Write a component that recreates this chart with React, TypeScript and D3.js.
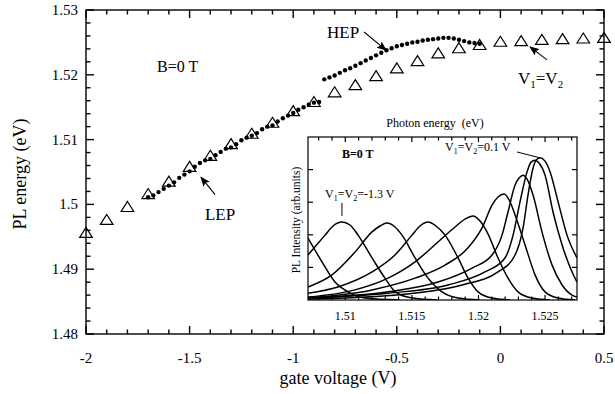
import React, { useEffect, useRef } from "react";
import * as d3 from "d3";

const W = 615;
const H = 394;
const FONT = "'Liberation Serif', 'Times New Roman', serif";

// V1=V2 (triangles)
const triV = [-2.0, -1.9, -1.8, -1.7, -1.6, -1.5, -1.4, -1.3, -1.2, -1.1, -1.0, -0.9, -0.8, -0.7, -0.6, -0.5, -0.4, -0.3, -0.2, -0.1, 0, 0.1, 0.2, 0.3, 0.4, 0.5];
const triE = [1.4956, 1.4976, 1.4996, 1.5016, 1.5035, 1.5058, 1.5075, 1.5093, 1.5109, 1.5126, 1.5144, 1.5158, 1.5173, 1.5184, 1.5198, 1.521, 1.5221, 1.5233, 1.5241, 1.5246, 1.5251, 1.5252, 1.5254, 1.5255, 1.5256, 1.5257];

// LEP (dots)
const lepV = [-1.7, -1.675, -1.65, -1.625, -1.6, -1.575, -1.55, -1.525, -1.5, -1.475, -1.45, -1.425, -1.4, -1.375, -1.35, -1.325, -1.3, -1.275, -1.25, -1.225, -1.2, -1.175, -1.15, -1.125, -1.1, -1.075, -1.05, -1.025, -1.0, -0.975, -0.95, -0.925, -0.9, -0.875];
const lepE = [1.5011, 1.5014, 1.5019, 1.5024, 1.5029, 1.5034, 1.5041, 1.5046, 1.5051, 1.5058, 1.5064, 1.5068, 1.507, 1.5076, 1.5081, 1.5086, 1.5088, 1.5093, 1.5099, 1.5103, 1.5106, 1.511, 1.5116, 1.512, 1.5122, 1.5128, 1.5133, 1.5137, 1.5141, 1.5146, 1.515, 1.5154, 1.5157, 1.5158];

// HEP (dots)
const hepV = [-0.85, -0.825, -0.8, -0.775, -0.75, -0.725, -0.7, -0.675, -0.65, -0.625, -0.6, -0.575, -0.55, -0.525, -0.5, -0.475, -0.45, -0.425, -0.4, -0.375, -0.35, -0.325, -0.3, -0.275, -0.25, -0.225, -0.2, -0.175, -0.15, -0.125, -0.1];
const hepE = [1.5193, 1.5196, 1.5199, 1.5203, 1.5207, 1.521, 1.5214, 1.5218, 1.5222, 1.5226, 1.523, 1.5234, 1.5238, 1.5241, 1.5244, 1.5246, 1.5248, 1.525, 1.5251, 1.5253, 1.5254, 1.5255, 1.5256, 1.5257, 1.5257, 1.5256, 1.5254, 1.5252, 1.525, 1.5249, 1.5248];

const xTicks = [-2, -1.5, -1, -0.5, 0, 0.5];
const xTickLabels = ["-2", "-1.5", "-1", "-0.5", "0", "0.5"];
const yTicks = [1.48, 1.49, 1.5, 1.51, 1.52, 1.53];
const yTickLabels = ["1.48", "1.49", "1.5", "1.51", "1.52", "1.53"];

// inset: PL spectra [photon energy, intensity]
const spec0 = [[1.5072, 1.9], [1.50825, 1.17], [1.50923, 0.55], [1.5102, 0.25], [1.51148, 0.06], [1.5141, 0]];
const spec1 = [[1.5072, 1.38], [1.50848, 1.99], [1.50908, 2.27], [1.50975, 2.39], [1.51035, 2.3], [1.51096, 1.99], [1.51201, 1.29], [1.51298, 0.67], [1.51376, 0.25], [1.51504, 0.06], [1.51691, 0]];
const spec2 = [[1.5072, 0.4], [1.509, 0.77], [1.51073, 1.47], [1.51201, 2.09], [1.51261, 2.27], [1.51313, 2.36], [1.51373, 2.24], [1.51426, 1.99], [1.51524, 1.29], [1.51621, 0.67], [1.51726, 0.25], [1.51847, 0.06], [1.52012, 0]];
const spec3 = [[1.5072, 0.21], [1.50945, 0.4], [1.51201, 0.86], [1.51373, 1.38], [1.51501, 1.99], [1.51561, 2.27], [1.51621, 2.39], [1.51681, 2.27], [1.51749, 1.99], [1.51847, 1.29], [1.51922, 0.67], [1.51997, 0.25], [1.52102, 0.06], [1.52237, 0]];
const spec4 = [[1.5072, 0.09], [1.51073, 0.31], [1.51321, 0.67], [1.51524, 1.17], [1.51696, 1.78], [1.51824, 2.24], [1.51899, 2.48], [1.51959, 2.58], [1.52012, 2.42], [1.52064, 2.09], [1.52147, 1.29], [1.52222, 0.67], [1.52297, 0.25], [1.52402, 0.06], [1.52537, 0]];
const spec5 = [[1.5072, 0.06], [1.51201, 0.31], [1.51524, 0.67], [1.51749, 1.07], [1.51922, 1.6], [1.52027, 2.21], [1.52102, 2.91], [1.52147, 3.16], [1.52192, 3.25], [1.5223, 3.07], [1.52275, 2.61], [1.5235, 1.69], [1.52425, 0.77], [1.525, 0.25], [1.52598, 0.06], [1.52725, 0]];
const spec6 = [[1.5072, 0.06], [1.51321, 0.25], [1.51696, 0.55], [1.51952, 0.98], [1.52102, 1.38], [1.52177, 1.99], [1.52222, 2.7], [1.52275, 3.53], [1.52305, 3.74], [1.52335, 3.83], [1.52365, 3.71], [1.5241, 3.22], [1.52477, 2.09], [1.52553, 1.07], [1.52628, 0.46], [1.52703, 0.15], [1.5274, 0.09]];
const spec7 = [[1.5072, 0.06], [1.51321, 0.21], [1.51771, 0.46], [1.52049, 0.86], [1.52199, 1.29], [1.5226, 1.99], [1.52312, 3.01], [1.52365, 3.93], [1.52395, 4.23], [1.52425, 4.29], [1.52455, 4.2], [1.525, 3.83], [1.5256, 2.7], [1.52628, 1.69], [1.52703, 0.86], [1.5274, 0.55]];
const spec8 = [[1.5072, 0.03], [1.51448, 0.18], [1.51877, 0.46], [1.52147, 0.86], [1.52275, 1.38], [1.52335, 2.21], [1.52372, 3.22], [1.5241, 4.05], [1.52433, 4.29], [1.52463, 4.36], [1.525, 4.26], [1.52538, 3.93], [1.52598, 3.01], [1.52665, 1.99], [1.5274, 1.29]];
const spectra = [spec0, spec1, spec2, spec3, spec4, spec5, spec6, spec7, spec8];

const insetTicks = [1.51, 1.515, 1.52, 1.525];
const insetTickLabels = ["1.51", "1.515", "1.52", "1.525"];
const insetYTicks = [1, 2, 3, 4];

export default function App() {
  const ref = useRef(null);

  useEffect(() => {
    const svg = d3.select(ref.current);
    svg.selectAll("*").remove();

    const x = d3.scaleLinear([-2, 0.5], [86, 604]);
    const y = d3.scaleLinear([1.48, 1.53], [334, 10]);

    const defs = svg.append("defs");
    defs
      .append("marker")
      .attr("id", "arr")
      .attr("markerUnits", "userSpaceOnUse")
      .attr("markerWidth", 10)
      .attr("markerHeight", 8)
      .attr("refX", 9)
      .attr("refY", 4)
      .attr("orient", "auto")
      .append("path")
      .attr("d", "M0,0 L10,4 L0,8 L2,4 z")
      .attr("fill", "#000");

    // frame with inward ticks on all four sides
    const boxTicks = (g, sx, sy, xMaj, xMin, yMaj, yMin, maj, mn, sw) => {
      const [x0, x1] = sx.range();
      const [y0, y1] = sy.range();
      g.append("rect")
        .attr("x", x0)
        .attr("y", y1)
        .attr("width", x1 - x0)
        .attr("height", y0 - y1)
        .attr("fill", "none")
        .attr("stroke", "#000")
        .attr("stroke-width", sw);
      const seg = [];
      xMin.forEach((v) => {
        const len = xMaj.some((m) => Math.abs(m - v) < 1e-9) ? maj : mn;
        seg.push([sx(v), y0, sx(v), y0 - len]);
        seg.push([sx(v), y1, sx(v), y1 + len]);
      });
      yMin.forEach((v) => {
        const len = yMaj.some((m) => Math.abs(m - v) < 1e-9) ? maj : mn;
        seg.push([x0, sy(v), x0 + len, sy(v)]);
        seg.push([x1, sy(v), x1 - len, sy(v)]);
      });
      g.selectAll("line.tk")
        .data(seg)
        .join("line")
        .attr("class", "tk")
        .attr("x1", (d) => d[0])
        .attr("y1", (d) => d[1])
        .attr("x2", (d) => d[2])
        .attr("y2", (d) => d[3])
        .attr("stroke", "#000")
        .attr("stroke-width", sw);
    };

    // main frame
    const gm = svg.append("g");
    boxTicks(gm, x, y, xTicks, x.ticks(25), yTicks, y.ticks(25), 8, 4.5, 1.4);

    gm.selectAll("text.xt")
      .data(xTicks)
      .join("text")
      .attr("class", "xt")
      .attr("x", (d) => x(d))
      .attr("y", 363)
      .attr("text-anchor", "middle")
      .attr("font-family", FONT)
      .attr("font-size", 15)
      .text((d, i) => xTickLabels[i]);

    gm.selectAll("text.yt")
      .data(yTicks)
      .join("text")
      .attr("class", "yt")
      .attr("x", 78)
      .attr("y", (d) => y(d) + 5)
      .attr("text-anchor", "end")
      .attr("font-family", FONT)
      .attr("font-size", 15)
      .text((d, i) => yTickLabels[i]);

    svg.append("text")
      .attr("x", 338)
      .attr("y", 384)
      .attr("text-anchor", "middle")
      .attr("font-family", FONT)
      .attr("font-size", 18)
      .text("gate voltage (V)");

    svg.append("text")
      .attr("transform", `translate(26,174) rotate(-90)`)
      .attr("text-anchor", "middle")
      .attr("font-family", FONT)
      .attr("font-size", 18)
      .text("PL energy (eV)");

    // dots
    const dots = lepV.map((v, i) => [v, lepE[i]]).concat(hepV.map((v, i) => [v, hepE[i]]));
    svg.append("g")
      .selectAll("circle")
      .data(dots)
      .join("circle")
      .attr("cx", (d) => x(d[0]))
      .attr("cy", (d) => y(d[1]))
      .attr("r", 2.2)
      .attr("fill", "#000");

    // triangles
    svg.append("g")
      .selectAll("path")
      .data(triV.map((v, i) => [v, triE[i]]))
      .join("path")
      .attr("transform", (d) => `translate(${x(d[0])},${y(d[1])})`)
      .attr("d", "M0,-5.5 L6.3,4.5 L-6.3,4.5 Z")
      .attr("fill", "none")
      .attr("stroke", "#000")
      .attr("stroke-width", 1.2);

    // annotations
    const label = (t, v, e, size = 17) =>
      svg.append("text")
        .attr("x", x(v))
        .attr("y", y(e))
        .attr("font-family", FONT)
        .attr("font-size", size)
        .text(t);
    const arrow = (v0, e0, v1, e1) =>
      svg.append("line")
        .attr("x1", x(v0))
        .attr("y1", y(e0))
        .attr("x2", x(v1))
        .attr("y2", y(e1))
        .attr("stroke", "#000")
        .attr("stroke-width", 1.1)
        .attr("marker-end", "url(#arr)");

    label("B=0 T", -1.657, 1.5204, 16);
    label("HEP", -0.837, 1.5257);
    arrow(-0.658, 1.5266, -0.552, 1.5238);
    label("LEP", -1.426, 1.4976);
    arrow(-1.377, 1.5015, -1.445, 1.5042);
    const vt = label("", 0.085, 1.5186);
    vt.append("tspan").text("V");
    vt.append("tspan").attr("font-size", 11).attr("dy", 4).text("1");
    vt.append("tspan").attr("dy", -4).text("=V");
    vt.append("tspan").attr("font-size", 11).attr("dy", 4).text("2");
    arrow(0.225, 1.5223, 0.143, 1.5243);

    // inset
    const ix = d3.scaleLinear([1.5072, 1.5274], [308, 577]);
    const iy = d3.scaleLinear([0, 5], [300, 137]);
    const gi = svg.append("g");
    gi.append("rect")
      .attr("x", 308)
      .attr("y", 137)
      .attr("width", 269)
      .attr("height", 163)
      .attr("fill", "#fff");
    defs.append("clipPath")
      .attr("id", "iclip")
      .append("rect")
      .attr("x", 308)
      .attr("y", 137)
      .attr("width", 269)
      .attr("height", 163);

    const line = d3
      .line()
      .x((d) => ix(d[0]))
      .y((d) => iy(d[1]))
      .curve(d3.curveMonotoneX);

    gi.append("g")
      .attr("clip-path", "url(#iclip)")
      .selectAll("path")
      .data(spectra)
      .join("path")
      .attr("d", line)
      .attr("fill", "none")
      .attr("stroke", "#000")
      .attr("stroke-width", 1.5);

    boxTicks(gi, ix, iy, insetTicks, ix.ticks(20), insetYTicks, insetYTicks, 5, 3.5, 1.2);

    gi.selectAll("text.it")
      .data(insetTicks)
      .join("text")
      .attr("class", "it")
      .attr("x", (d) => ix(d))
      .attr("y", 320)
      .attr("text-anchor", "middle")
      .attr("font-family", FONT)
      .attr("font-size", 12)
      .text((d, i) => insetTickLabels[i]);

    gi.append("text")
      .attr("x", 435)
      .attr("y", 127)
      .attr("text-anchor", "middle")
      .attr("font-family", FONT)
      .attr("font-size", 12)
      .style("white-space", "pre")
      .text("Photon energy  (eV)");

    gi.append("text")
      .attr("transform", `translate(300,220) rotate(-90)`)
      .attr("text-anchor", "middle")
      .attr("font-family", FONT)
      .attr("font-size", 11.5)
      .text("PL Intensity (arb.units)");

    gi.append("text")
      .attr("x", ix(1.50975))
      .attr("y", iy(4.36))
      .attr("font-family", FONT)
      .attr("font-size", 12)
      .attr("font-weight", "bold")
      .text("B=0 T");

    const vLabel = (e, i, tail) => {
      const t = gi.append("text")
        .attr("x", ix(e))
        .attr("y", iy(i))
        .attr("font-family", FONT)
        .attr("font-size", 12);
      t.append("tspan").text("V");
      t.append("tspan").attr("font-size", 8).attr("dy", 3).text("1");
      t.append("tspan").attr("dy", -3).text("=V");
      t.append("tspan").attr("font-size", 8).attr("dy", 3).text("2");
      t.append("tspan").attr("dy", -3).text(tail);
    };
    vLabel(1.50848, 3.13, "=-1.3 V");
    vLabel(1.51749, 4.57, "=0.1 V");

    gi.append("line")
      .attr("x1", ix(1.50975))
      .attr("y1", iy(2.98))
      .attr("x2", ix(1.50975))
      .attr("y2", iy(2.58))
      .attr("stroke", "#000")
      .attr("stroke-width", 1);
    gi.append("line")
      .attr("x1", ix(1.5229))
      .attr("y1", iy(4.54))
      .attr("x2", ix(1.52463))
      .attr("y2", iy(4.36))
      .attr("stroke", "#000")
      .attr("stroke-width", 1);
  }, []);

  return (
    <svg
      ref={ref}
      width={W}
      height={H}
      style={{ position: "absolute", left: 0, top: 0, background: "#fff" }}
    />
  );
}
